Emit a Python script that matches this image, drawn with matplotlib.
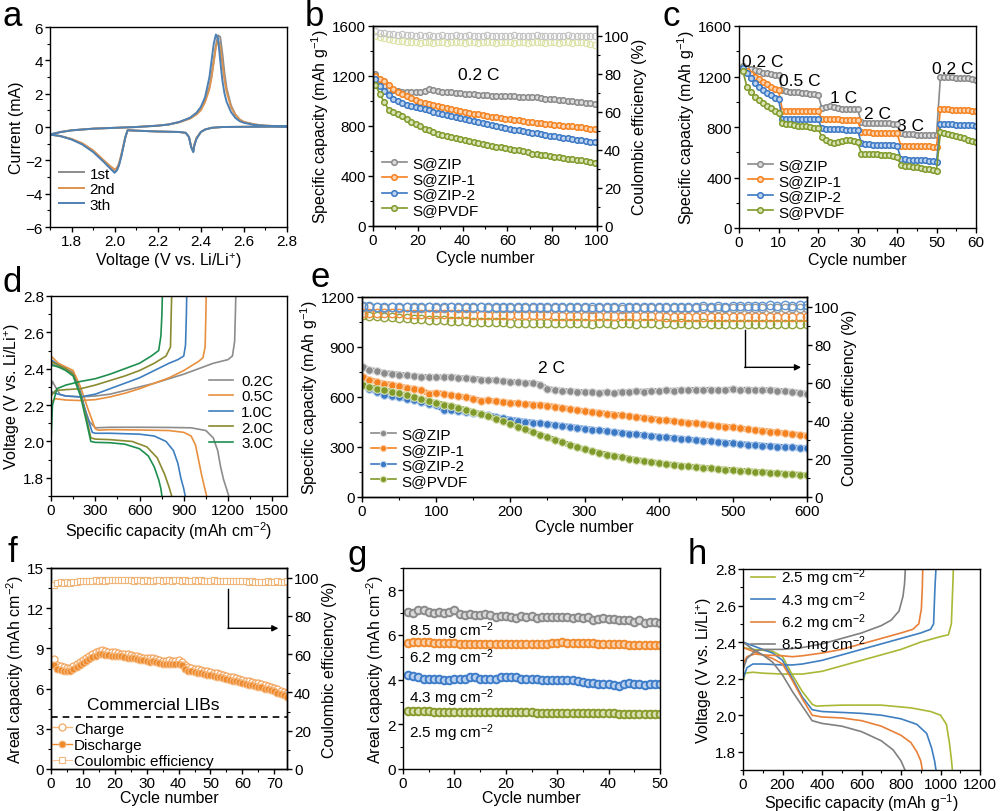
import numpy as np
import matplotlib
matplotlib.use("Agg")
import matplotlib.pyplot as plt
from matplotlib.ticker import MultipleLocator

plt.rcParams['font.family'] = ['Liberation Sans', 'DejaVu Sans']
plt.rcParams['mathtext.fontset'] = 'custom'
plt.rcParams['mathtext.rm'] = 'Liberation Sans'
plt.rcParams['mathtext.default'] = 'regular'
plt.rcParams['font.size'] = 11
plt.rcParams['axes.linewidth'] = 1.0

TICK = 11
LAB = 11.5

# ---------------- data ----------------
# a: CV loop (anodic sweep 1.7 -> 2.8, then cathodic 2.8 -> 1.7)
cv_v = [1.70, 1.75, 1.80, 1.90, 2.00, 2.10, 2.20, 2.25, 2.30, 2.35, 2.38, 2.40, 2.42, 2.44,
        2.45, 2.46, 2.47, 2.48, 2.49, 2.50, 2.51, 2.52, 2.54, 2.56, 2.58, 2.60, 2.65, 2.70, 2.80,
        2.70, 2.60, 2.50, 2.45, 2.42, 2.40, 2.38, 2.37, 2.365, 2.355, 2.345, 2.33, 2.30, 2.20,
        2.10, 2.07, 2.06, 2.05, 2.04, 2.03, 2.02, 2.01, 2.00, 1.98, 1.95, 1.90, 1.85, 1.80, 1.75, 1.70]
cv_1st = [-0.45, -0.3, -0.2, -0.1, -0.05, 0.0, 0.08, 0.15, 0.3, 0.55, 0.85, 1.15, 1.6, 2.4,
          3.1, 4.0, 4.9, 5.5, 5.4, 4.4, 3.2, 2.3, 1.3, 0.75, 0.45, 0.3, 0.15, 0.08, 0.03,
          0.02, 0.01, 0.0, -0.05, -0.15, -0.3, -0.7, -1.1, -1.5, -1.2, -0.6, -0.35, -0.3, -0.27,
          -0.22, -0.2, -0.2, -0.6, -1.2, -1.8, -2.3, -2.6, -2.7, -2.45, -2.05, -1.45, -1.0, -0.72, -0.55, -0.45]
cv_2nd = [-0.45, -0.3, -0.2, -0.1, -0.05, 0.0, 0.08, 0.15, 0.28, 0.5, 0.75, 1.0, 1.5, 2.3,
          3.0, 3.9, 4.8, 5.2, 4.8, 3.8, 2.8, 2.1, 1.2, 0.75, 0.45, 0.3, 0.15, 0.08, 0.03,
          0.02, 0.01, 0.0, -0.05, -0.15, -0.3, -0.65, -1.05, -1.45, -1.15, -0.6, -0.35, -0.3, -0.27,
          -0.22, -0.2, -0.2, -0.6, -1.15, -1.7, -2.2, -2.45, -2.55, -2.35, -2.0, -1.4, -0.98, -0.72, -0.55, -0.45]
cv_3th = [-0.45, -0.3, -0.2, -0.1, -0.05, 0.0, 0.08, 0.15, 0.3, 0.55, 0.85, 1.2, 1.8, 3.0,
          4.0, 5.0, 5.55, 5.3, 4.0, 2.8, 2.0, 1.5, 0.9, 0.55, 0.35, 0.25, 0.12, 0.07, 0.03,
          0.02, 0.01, 0.0, -0.05, -0.15, -0.3, -0.7, -1.1, -1.5, -1.2, -0.6, -0.35, -0.3, -0.27,
          -0.22, -0.2, -0.2, -0.6, -1.2, -1.8, -2.3, -2.6, -2.75, -2.5, -2.1, -1.5, -1.05, -0.75, -0.55, -0.45]

# b: cycling at 0.2 C (every second cycle)
b_cycles = list(range(1, 101, 2))
b_zip = [1220, 1160, 1120, 1100, 1085, 1080, 1075, 1075, 1070, 1070, 1075, 1080, 1095, 1085, 1080,
         1075, 1075, 1070, 1065, 1065, 1060, 1055, 1055, 1050, 1045, 1045, 1040, 1040, 1040, 1040,
         1040, 1040, 1035, 1035, 1035, 1035, 1030, 1025, 1020, 1015, 1015, 1010, 1005, 1000, 1000,
         995, 990, 985, 985, 980]
b_zip1 = [1200, 1180, 1160, 1130, 1100, 1075, 1055, 1040, 1025, 1005, 995, 985, 975, 965, 958,
          950, 942, 935, 928, 920, 915, 908, 900, 895, 888, 882, 876, 870, 865, 860,
          855, 850, 845, 840, 836, 832, 828, 824, 820, 816, 812, 808, 804, 800, 797,
          793, 789, 785, 780, 775]
b_zip2 = [1180, 1120, 1080, 1050, 1020, 1000, 985, 970, 960, 950, 942, 935, 925, 915, 905,
          898, 890, 882, 875, 866, 858, 850, 840, 832, 823, 815, 808, 800, 793, 786,
          778, 772, 766, 760, 754, 748, 742, 736, 730, 724, 718, 713, 708, 703, 698,
          692, 687, 682, 676, 670]
b_pvdf = [1130, 1060, 990, 930, 910, 900, 880, 860, 835, 815, 800, 780, 765, 752, 740,
          730, 722, 714, 706, 698, 690, 682, 674, 666, 658, 650, 642, 636, 630, 624,
          618, 612, 606, 598, 590, 580, 575, 570, 565, 560, 555, 550, 545, 540, 535,
          530, 525, 518, 512, 505]
b_ce_zip = [102.5, 101.5, 101.5, 101, 101, 100.5, 101, 100.5, 100.5, 100, 100.5, 100, 100.5, 100, 100,
            100.5, 100, 100, 100.5, 100, 100, 100.5, 100, 100, 100, 100.5, 100, 100, 100, 100,
            100, 100.5, 100, 100, 100, 100, 100.5, 100, 100, 100, 100, 100, 100, 100.5, 100,
            100, 100, 100, 100, 100]
b_ce_pvdf = [99.5, 99, 98.5, 98, 97.5, 97, 97, 96.5, 96.5, 96.5, 96, 96.5, 96.5, 96, 96.5,
             96.5, 96, 96.5, 96.5, 96.5, 96, 96.5, 96.5, 96, 96.5, 96.5, 96.5, 96, 96.5, 96.5,
             96.5, 96, 96.5, 96.5, 96, 96.5, 96.5, 96.5, 96, 96.5, 96.5, 96, 96.5, 96.5, 96,
             96.5, 96.5, 96, 95.5, 95]

# c: rate performance
c_cycles = list(range(1, 61))
c_zip = [1280, 1270, 1260, 1250, 1240, 1230, 1225, 1220, 1215, 1210,
         1090, 1085, 1080, 1080, 1075, 1070, 1070, 1065, 1060, 1055,
         950, 960, 965, 955, 950, 945, 945, 940, 945, 940,
         840, 835, 835, 835, 830, 830, 835, 830, 825, 820,
         750, 745, 745, 745, 740, 740, 740, 740, 735, 735,
         1200, 1200, 1195, 1195, 1190, 1190, 1185, 1185, 1180, 1175]
c_zip1 = [1260, 1240, 1220, 1200, 1180, 1160, 1140, 1120, 1100, 1090,
          930, 930, 930, 930, 930, 930, 930, 930, 930, 930,
          860, 860, 860, 860, 860, 855, 855, 855, 855, 855,
          760, 760, 760, 755, 755, 755, 755, 755, 750, 750,
          650, 650, 650, 650, 650, 650, 650, 650, 645, 645,
          940, 940, 940, 935, 935, 935, 935, 935, 930, 930]
c_zip2 = [1270, 1230, 1190, 1150, 1120, 1090, 1070, 1050, 1030, 1020,
          860, 860, 860, 860, 860, 860, 860, 860, 860, 860,
          790, 785, 785, 785, 785, 785, 780, 780, 780, 780,
          670, 665, 665, 660, 660, 660, 655, 655, 655, 650,
          550, 545, 540, 540, 535, 535, 535, 530, 530, 525,
          820, 820, 820, 820, 815, 815, 815, 815, 815, 810]
c_pvdf = [1240, 1120, 1080, 1040, 1010, 990, 970, 950, 930, 910,
          830, 825, 820, 815, 810, 810, 805, 800, 795, 790,
          720, 700, 680, 670, 680, 690, 700, 700, 690, 680,
          590, 590, 590, 585, 585, 580, 580, 575, 570, 565,
          500, 495, 490, 485, 480, 475, 470, 465, 460, 455,
          760, 750, 745, 740, 730, 720, 710, 700, 690, 680]
c_rates = ["0.2 C", "0.5 C", "1 C", "2 C", "3 C", "0.2 C"]
c_rate_x = [6, 15.5, 26.5, 35, 43.5, 54]
c_rate_y = [1320, 1165, 1035, 905, 810, 1260]

# d: charge/discharge profiles at different rates
d_rates = ["0.2C", "0.5C", "1.0C", "2.0C", "3.0C"]
d_02_dis_x = [0, 50, 100, 150, 180, 220, 260, 300, 400, 600, 800, 950, 1050, 1100, 1130, 1150, 1170, 1190, 1205]
d_02_dis_v = [2.43, 2.41, 2.40, 2.38, 2.32, 2.20, 2.11, 2.075, 2.078, 2.078, 2.077, 2.075, 2.06, 2.02, 1.95, 1.86, 1.79, 1.74, 1.70]
d_02_ch_x = [0, 10, 30, 60, 100, 200, 300, 400, 500, 600, 700, 800, 900, 1000, 1100, 1150, 1200, 1230, 1245, 1250, 1253]
d_02_ch_v = [2.30, 2.33, 2.30, 2.26, 2.25, 2.245, 2.25, 2.26, 2.28, 2.30, 2.32, 2.345, 2.37, 2.40, 2.43, 2.44, 2.45, 2.47, 2.55, 2.70, 2.80]
d_05_dis_x = [0, 50, 100, 150, 200, 250, 300, 320, 400, 600, 800, 900, 950, 980, 1000, 1020, 1040, 1055]
d_05_dis_v = [2.47, 2.43, 2.41, 2.39, 2.30, 2.18, 2.07, 2.062, 2.065, 2.063, 2.06, 2.05, 2.03, 1.98, 1.90, 1.82, 1.75, 1.70]
d_05_ch_x = [0, 5, 30, 100, 200, 300, 400, 500, 600, 700, 800, 900, 960, 1000, 1030, 1045, 1050, 1052]
d_05_ch_v = [2.15, 2.22, 2.235, 2.228, 2.225, 2.23, 2.245, 2.265, 2.29, 2.32, 2.35, 2.39, 2.42, 2.44, 2.46, 2.52, 2.70, 2.80]
d_10_dis_x = [0, 50, 100, 150, 200, 240, 280, 300, 400, 600, 700, 780, 830, 860, 880, 900, 910]
d_10_dis_v = [2.45, 2.42, 2.40, 2.37, 2.27, 2.15, 2.05, 2.045, 2.045, 2.04, 2.03, 2.00, 1.95, 1.88, 1.80, 1.74, 1.70]
d_10_ch_x = [0, 10, 50, 100, 200, 300, 400, 500, 600, 700, 800, 860, 900, 912, 918, 920]
d_10_ch_v = [2.28, 2.27, 2.26, 2.25, 2.245, 2.26, 2.29, 2.32, 2.35, 2.39, 2.43, 2.45, 2.47, 2.53, 2.70, 2.80]
d_20_dis_x = [0, 50, 100, 150, 200, 240, 270, 300, 400, 550, 650, 720, 770, 800, 818]
d_20_dis_v = [2.44, 2.42, 2.40, 2.37, 2.26, 2.13, 2.02, 2.013, 2.01, 2.00, 1.97, 1.91, 1.82, 1.75, 1.70]
d_20_ch_x = [0, 30, 100, 200, 300, 400, 500, 600, 700, 780, 810, 815, 818]
d_20_ch_v = [2.25, 2.28, 2.285, 2.29, 2.31, 2.335, 2.36, 2.39, 2.43, 2.47, 2.52, 2.70, 2.80]
d_30_dis_x = [0, 50, 100, 150, 200, 240, 270, 300, 400, 500, 600, 660, 700, 730, 745, 752]
d_30_dis_v = [2.42, 2.41, 2.39, 2.36, 2.25, 2.11, 2.00, 1.995, 1.993, 1.985, 1.96, 1.92, 1.86, 1.79, 1.74, 1.70]
d_30_ch_x = [0, 10, 40, 100, 200, 300, 400, 500, 600, 680, 730, 745, 752, 755]
d_30_ch_v = [2.00, 2.20, 2.29, 2.31, 2.33, 2.345, 2.37, 2.40, 2.43, 2.47, 2.50, 2.58, 2.70, 2.80]

# e: long cycling at 2 C (every tenth cycle)
e_cycles = [1] + list(range(10, 601, 10))
e_zip = [780, 765, 755, 745, 740, 735, 730, 725, 722, 720, 720, 718, 722, 715, 712, 710, 705, 702, 700, 695,
         692, 688, 685, 682, 675, 650, 642, 638, 635, 632, 630, 628, 625, 628, 622, 632, 630, 635, 632, 638,
         636, 640, 638, 642, 640, 645, 642, 645, 640, 643, 646, 642, 645, 642, 640, 643, 638, 635, 632, 625, 620]
e_zip1 = [720, 705, 690, 680, 675, 665, 655, 650, 640, 620, 625, 620, 610, 605, 598, 590, 578, 580, 575, 570,
          565, 562, 558, 555, 552, 548, 542, 535, 528, 522, 515, 510, 505, 500, 495, 490, 485, 480, 475, 470,
          465, 460, 455, 450, 446, 442, 438, 432, 427, 422, 418, 412, 407, 402, 398, 393, 388, 383, 378, 373, 368]
e_zip2 = [670, 650, 630, 615, 605, 598, 590, 580, 570, 560, 550, 525, 520, 515, 510, 505, 498, 490, 482, 472,
          465, 458, 452, 447, 442, 437, 432, 427, 422, 416, 410, 405, 400, 395, 390, 385, 380, 376, 371, 366,
          362, 358, 354, 350, 346, 342, 338, 334, 330, 326, 322, 318, 315, 312, 309, 306, 303, 300, 298, 295, 292]
e_pvdf = [670, 660, 650, 640, 632, 622, 610, 598, 586, 574, 565, 555, 545, 535, 522, 510, 497, 484, 470, 455,
          440, 423, 406, 389, 373, 358, 343, 328, 313, 299, 286, 275, 265, 255, 246, 238, 230, 223, 216, 210,
          204, 198, 193, 188, 184, 180, 176, 172, 168, 165, 162, 158, 155, 152, 149, 146, 143, 140, 137, 134, 131]
e_ce_zip = [99.5, 99.5, 99.5, 99, 99.5, 99, 99.5, 99, 99, 99.5, 99, 99, 99.5, 99, 99, 99, 99.5, 99, 99, 99,
            99, 99, 99, 99, 99, 99, 99, 99, 99, 99, 99, 98.5, 99, 99, 99, 98.5, 99, 99, 99, 99,
            99, 99, 99, 99, 99, 99, 99, 99, 99, 99, 99, 99, 99, 99, 99, 99, 99, 99, 99, 99, 99]
e_ce_zip1 = [96.5, 96.5, 96.5, 96.5, 96.5, 96.5, 96, 96, 96, 96, 96, 96, 96, 96, 96, 95.5, 95.5, 95.5, 95.5, 95.5,
             95.5, 95.5, 95.5, 95.5, 95.5, 95.5, 95, 95, 95, 95, 95, 95, 95, 95, 95, 95, 95, 95, 95, 95,
             95, 94.5, 94.5, 94.5, 94.5, 94.5, 94.5, 94.5, 94.5, 94.5, 94.5, 94.5, 94.5, 94.5, 94.5, 94.5, 94.5, 94.5, 94.5, 94.5, 94.5]
e_ce_zip2 = [100.5, 100.5, 100, 100, 100, 100, 100, 99.5, 99.5, 99.5, 99.5, 99.5, 99.5, 99.5, 99.5, 99.5, 99.5, 99.5, 99.5, 99.5,
             99.5, 99.5, 99.5, 99.5, 99.5, 99.5, 99.5, 99.5, 99.5, 99.5, 99.5, 99.5, 99.5, 99.5, 99.5, 100, 99.5, 100, 99.5, 100,
             100, 100, 100, 100, 100, 100, 100.5, 100, 100.5, 100, 100.5, 100.5, 100.5, 100.5, 100.5, 101, 100.5, 101, 100.5, 101, 101]
e_ce_pvdf = [95.5, 95, 95, 94.5, 94.5, 94, 94, 93.5, 93.5, 93, 93, 93, 92.5, 92.5, 92.5, 92, 92, 92, 92, 92,
             91.5, 91.5, 91.5, 91.5, 91.5, 91.5, 91.5, 91.5, 91.5, 91.5, 91.5, 91, 91.5, 91.5, 91, 91.5, 91.5, 91, 91.5, 91.5,
             91, 91.5, 91, 91.5, 91, 91, 91.5, 91, 91, 91, 91, 91, 91, 91, 91, 91, 91, 91, 91, 91, 91]

# f: high-loading cell vs commercial LIBs
f_cycles = list(range(1, 75))
f_discharge = [7.75, 7.5, 7.4, 7.35, 7.3, 7.3, 7.45, 7.6, 7.75, 7.9, 8.05, 8.2, 8.35, 8.45, 8.55, 8.55, 8.5, 8.5, 8.45, 8.45,
               8.4, 8.4, 8.35, 8.3, 8.3, 8.25, 8.2, 8.15, 8.1, 8.05, 8.0, 8.05, 7.95, 7.9, 7.8, 7.8, 7.85, 7.8, 7.8, 7.85,
               7.75, 7.5, 7.35, 7.3, 7.25, 7.2, 7.15, 7.1, 7.05, 7.0, 6.95, 6.9, 6.85, 6.8, 6.7, 6.65, 6.6, 6.55, 6.5, 6.4,
               6.35, 6.3, 6.25, 6.2, 6.15, 6.1, 6.0, 5.95, 5.9, 5.8, 5.7, 5.6, 5.5, 5.4]
f_charge = [8.2, 7.75, 7.65, 7.6, 7.55, 7.55, 7.7, 7.85, 8.0, 8.15, 8.3, 8.45, 8.6, 8.7, 8.8, 8.85, 8.8, 8.75, 8.7, 8.7,
            8.65, 8.6, 8.6, 8.55, 8.5, 8.45, 8.4, 8.35, 8.3, 8.3, 8.25, 8.3, 8.2, 8.15, 8.05, 8.05, 8.1, 8.05, 8.05, 8.1,
            8.0, 7.75, 7.6, 7.55, 7.5, 7.45, 7.4, 7.35, 7.3, 7.25, 7.2, 7.15, 7.1, 7.05, 6.95, 6.9, 6.85, 6.8, 6.75, 6.65,
            6.6, 6.55, 6.5, 6.45, 6.4, 6.35, 6.25, 6.2, 6.15, 6.05, 5.95, 5.85, 5.75, 5.65]
f_ce = [96, 97, 97.5, 97, 97.5, 97, 97.5, 97.5, 98, 98, 98, 98, 98, 98.5, 98, 98.5, 98, 98.5, 98.5, 98.5,
        98.5, 98.5, 98.5, 98.5, 98.5, 98, 98.5, 98.5, 98, 98.5, 98, 98, 98.5, 98.5, 98, 98.5, 98.5, 98, 98.5, 98.5,
        98, 98.5, 98, 98, 98.5, 98, 98.5, 98, 98, 98, 98.5, 98, 98, 98, 98, 98, 98, 98, 98, 98,
        98, 97.5, 98, 97.5, 97.5, 97.5, 97.5, 98, 97.5, 97.5, 98, 97.5, 97.5, 98]
f_lib = 3.9

# g: areal capacity at different sulfur loadings
g_cycles = list(range(1, 51))
g_loads = ["8.5 mg cm$^{-2}$", "6.2 mg cm$^{-2}$", "4.3 mg cm$^{-2}$", "2.5 mg cm$^{-2}$"]
g_85 = [7.05, 7.0, 7.1, 7.1, 7.05, 7.0, 7.05, 7.0, 7.05, 7.1, 6.95, 6.9, 6.95, 6.9, 6.9, 6.95, 6.9, 6.8, 6.85, 6.85,
        6.8, 6.75, 6.85, 6.8, 6.85, 6.75, 6.8, 6.8, 6.8, 6.8, 6.8, 6.8, 6.75, 6.8, 6.75, 6.8, 6.65, 6.7, 6.75, 6.7,
        6.7, 6.65, 6.65, 6.65, 6.6, 6.65, 6.55, 6.6, 6.6, 6.55]
g_62 = [5.65, 5.7, 5.7, 5.7, 5.7, 5.65, 5.65, 5.65, 5.65, 5.65, 5.6, 5.6, 5.6, 5.6, 5.6, 5.6, 5.6, 5.6, 5.6, 5.6,
        5.6, 5.6, 5.6, 5.6, 5.6, 5.6, 5.6, 5.6, 5.65, 5.65, 5.7, 5.65, 5.65, 5.65, 5.65, 5.65, 5.65, 5.6, 5.6, 5.6,
        5.6, 5.6, 5.6, 5.55, 5.55, 5.55, 5.55, 5.55, 5.55, 5.55]
g_43 = [4.2, 4.15, 4.1, 4.05, 4.05, 4.05, 4.05, 4.0, 4.0, 4.05, 4.05, 4.05, 4.1, 4.1, 4.05, 4.05, 4.05, 4.05, 4.1, 4.1,
        4.1, 4.1, 4.05, 4.05, 4.05, 4.05, 4.0, 4.0, 4.0, 4.0, 4.0, 4.0, 4.0, 3.95, 3.9, 3.85, 3.85, 3.8, 3.8, 3.8,
        3.75, 3.7, 3.8, 3.85, 3.8, 3.8, 3.75, 3.8, 3.8, 3.8]
g_25 = [2.6, 2.6, 2.6, 2.6, 2.6, 2.55, 2.55, 2.55, 2.55, 2.55, 2.55, 2.55, 2.55, 2.55, 2.55, 2.55, 2.55, 2.55, 2.55, 2.55,
        2.55, 2.55, 2.55, 2.55, 2.55, 2.5, 2.5, 2.5, 2.5, 2.5, 2.5, 2.5, 2.5, 2.5, 2.5, 2.5, 2.5, 2.5, 2.5, 2.5,
        2.5, 2.45, 2.45, 2.45, 2.45, 2.45, 2.45, 2.45, 2.45, 2.45]
g_label_y = [6.2, 5.0, 3.2, 1.65]

# h: voltage profiles at different loadings
h_25_dis_x = [0, 50, 100, 150, 200, 250, 300, 350, 370, 500, 700, 850, 950, 1000, 1030, 1045, 1055, 1060]
h_25_dis_v = [2.37, 2.36, 2.355, 2.35, 2.32, 2.22, 2.13, 2.06, 2.05, 2.055, 2.055, 2.04, 2.02, 2.00, 1.95, 1.85, 1.76, 1.70]
h_25_ch_x = [0, 10, 50, 100, 200, 300, 400, 500, 600, 700, 800, 900, 1000, 1040, 1055, 1062, 1065]
h_25_ch_v = [2.18, 2.23, 2.235, 2.23, 2.225, 2.225, 2.24, 2.27, 2.30, 2.33, 2.36, 2.40, 2.43, 2.44, 2.50, 2.70, 2.80]
h_43_dis_x = [0, 50, 100, 150, 200, 250, 300, 350, 400, 500, 600, 700, 800, 880, 930, 955, 970, 977]
h_43_dis_v = [2.40, 2.38, 2.36, 2.34, 2.30, 2.20, 2.10, 2.03, 2.02, 2.015, 2.01, 2.00, 1.98, 1.95, 1.90, 1.82, 1.75, 1.70]
h_43_ch_x = [0, 20, 50, 100, 200, 250, 300, 400, 500, 600, 700, 800, 900, 950, 965, 972, 977]
h_43_ch_v = [2.20, 2.26, 2.28, 2.28, 2.275, 2.275, 2.28, 2.30, 2.33, 2.36, 2.39, 2.42, 2.45, 2.47, 2.50, 2.70, 2.80]
h_62_dis_x = [0, 50, 100, 150, 200, 250, 300, 350, 400, 500, 600, 700, 800, 850, 880, 900, 908]
h_62_dis_v = [2.37, 2.35, 2.33, 2.31, 2.28, 2.19, 2.09, 2.00, 1.99, 1.985, 1.97, 1.94, 1.89, 1.85, 1.80, 1.75, 1.70]
h_62_ch_x = [0, 20, 60, 100, 200, 250, 300, 400, 500, 600, 700, 800, 860, 890, 903, 908, 910]
h_62_ch_v = [2.28, 2.32, 2.335, 2.33, 2.325, 2.32, 2.325, 2.34, 2.36, 2.39, 2.42, 2.45, 2.47, 2.50, 2.58, 2.70, 2.80]
h_85_dis_x = [0, 50, 100, 150, 200, 250, 300, 350, 400, 500, 600, 700, 760, 800, 820]
h_85_dis_v = [2.40, 2.36, 2.33, 2.29, 2.22, 2.13, 2.05, 1.97, 1.955, 1.94, 1.91, 1.86, 1.81, 1.75, 1.70]
h_85_ch_x = [0, 20, 60, 100, 150, 200, 300, 400, 500, 600, 700, 750, 790, 810, 818, 822]
h_85_ch_v = [2.25, 2.31, 2.35, 2.36, 2.36, 2.36, 2.37, 2.39, 2.42, 2.45, 2.49, 2.52, 2.57, 2.65, 2.72, 2.80]

names = ["S@ZIP", "S@ZIP-1", "S@ZIP-2", "S@PVDF"]
GRAY, ORANGE, BLUE, OLIVE = "#8a8a8a", "#f5821f", "#3b78c4", "#7f9a2a"
cols = [GRAY, ORANGE, BLUE, OLIVE]
light = ["#dcdcdc", "#fbd3b0", "#bcd3ef", "#d8e2b4"]

# ---------------- figure ----------------
fig = plt.figure(figsize=(10, 8.12), dpi=100)


def box(l, t, r, b):
    return fig.add_axes([l / 1000, 1 - b / 812, (r - l) / 1000, (b - t) / 812])


def style(ax):
    ax.tick_params(which='major', direction='out', length=3.5, width=1, labelsize=TICK, pad=1.5)
    ax.tick_params(which='minor', direction='out', length=2.2, width=0.8)


def right_axis(ax):
    ax2 = ax.twinx()
    ax2.set_ylim(0, 105)
    ax2.yaxis.set_major_locator(MultipleLocator(20))
    ax2.yaxis.set_minor_locator(MultipleLocator(10))
    style(ax2)
    ax2.set_ylabel("Coulombic efficiency (%)", fontsize=LAB, labelpad=2)
    return ax2


def mark_line(ax, x, y, c, lc, label=None, ms=4.5):
    ax.plot(x, y, '-o', color=c, lw=1.2, ms=ms, mfc=lc, mec=c, mew=1.1, label=label)


leg_kw = dict(frameon=False, fontsize=TICK, handlelength=1.6, labelspacing=0.1,
              borderaxespad=0.2, handletextpad=0.4)

# a
ax = box(50, 28, 287, 228)
for y, c, lab in zip([cv_1st, cv_2nd, cv_3th], ["#8c8c8c", "#dc9350", "#4d80b3"], ["1st", "2nd", "3th"]):
    ax.plot(cv_v, y, color=c, lw=1.4, label=lab)
ax.set_xlim(1.7, 2.8)
ax.set_ylim(-6, 6)
ax.xaxis.set_major_locator(MultipleLocator(0.2))
ax.xaxis.set_minor_locator(MultipleLocator(0.1))
ax.yaxis.set_major_locator(MultipleLocator(2))
ax.yaxis.set_minor_locator(MultipleLocator(1))
style(ax)
ax.set_xlabel("Voltage (V vs. Li/Li$^{+}$)", fontsize=LAB, labelpad=2)
ax.set_ylabel("Current (mA)", fontsize=LAB, labelpad=1)
ax.legend(loc='lower left', bbox_to_anchor=(0.0, 0.03), **leg_kw)

# b
ax = box(373, 27, 597, 227)
ax2 = right_axis(ax)
ax2.plot(b_cycles, b_ce_pvdf, 'o', ms=4.5, mfc='none', mec="#dde3a8", mew=0.9)
ax2.plot(b_cycles, b_ce_zip, 'o', ms=4.5, mfc='none', mec="#c4c4c4", mew=0.9)
for y, c, lc, n in zip([b_zip, b_zip1, b_zip2, b_pvdf], cols, light, names):
    mark_line(ax, b_cycles, y, c, lc, n, ms=4)
ax.set_xlim(0, 100)
ax.set_ylim(0, 1600)
ax.xaxis.set_major_locator(MultipleLocator(20))
ax.xaxis.set_minor_locator(MultipleLocator(10))
ax.yaxis.set_major_locator(MultipleLocator(400))
ax.yaxis.set_minor_locator(MultipleLocator(200))
style(ax)
ax.text(47, 1215, "0.2 C", fontsize=12.5, ha='center', va='center')
ax.set_xlabel("Cycle number", fontsize=LAB, labelpad=2)
ax.set_ylabel("Specific capacity (mAh g$^{-1}$)", fontsize=LAB, labelpad=1)
ax.legend(loc='lower left', **leg_kw)

# c
ax = box(739, 27, 976, 229)
for y, c, lc, n in zip([c_zip, c_zip1, c_zip2, c_pvdf], cols, light, names):
    mark_line(ax, c_cycles, y, c, lc, n, ms=4)
for t, x, y in zip(c_rates, c_rate_x, c_rate_y):
    ax.text(x, y, t, fontsize=12.5, ha='center', va='center')
ax.set_xlim(0, 60)
ax.set_ylim(0, 1600)
ax.xaxis.set_major_locator(MultipleLocator(10))
ax.xaxis.set_minor_locator(MultipleLocator(5))
ax.yaxis.set_major_locator(MultipleLocator(400))
ax.yaxis.set_minor_locator(MultipleLocator(200))
style(ax)
ax.set_xlabel("Cycle number", fontsize=LAB, labelpad=2)
ax.set_ylabel("Specific capacity (mAh g$^{-1}$)", fontsize=LAB, labelpad=1)
ax.legend(loc='lower left', **leg_kw)

# d
ax = box(51, 297, 287, 497)
d_cols = ["#8c8c8c", "#e8903e", "#3f7fc0", "#8a8a30", "#1f8f50"]
d_dis = [(d_02_dis_x, d_02_dis_v), (d_05_dis_x, d_05_dis_v), (d_10_dis_x, d_10_dis_v),
         (d_20_dis_x, d_20_dis_v), (d_30_dis_x, d_30_dis_v)]
d_ch = [(d_02_ch_x, d_02_ch_v), (d_05_ch_x, d_05_ch_v), (d_10_ch_x, d_10_ch_v),
        (d_20_ch_x, d_20_ch_v), (d_30_ch_x, d_30_ch_v)]
for (dx, dv), (cx, cv), c, lab in zip(d_dis, d_ch, d_cols, d_rates):
    ax.plot(dx, dv, color=c, lw=1.2, label=lab)
    ax.plot(cx, cv, color=c, lw=1.2)
ax.set_xlim(0, 1600)
ax.set_ylim(1.7, 2.8)
ax.set_xticks([0, 300, 600, 900, 1200, 1500])
ax.xaxis.set_minor_locator(MultipleLocator(150))
ax.yaxis.set_major_locator(MultipleLocator(0.2))
ax.yaxis.set_minor_locator(MultipleLocator(0.1))
style(ax)
ax.set_xlabel("Specific capacity (mAh cm$^{-2}$)", fontsize=LAB, labelpad=2)
ax.set_ylabel("Voltage (V vs. Li/Li$^{+}$)", fontsize=LAB, labelpad=1)
ax.legend(loc='center right', bbox_to_anchor=(1.0, 0.42), frameon=False, fontsize=TICK,
          handlelength=1.6, labelspacing=0.1, handletextpad=0.5)

# e
ax = box(362, 298, 807, 498)
ax2 = right_axis(ax)
for y, c in zip([e_ce_pvdf, e_ce_zip1, e_ce_zip, e_ce_zip2], ["#8fa23a", "#f28d3a", "#9a9a9a", "#5b93d3"]):
    ax2.plot(e_cycles, y, 'o', ms=6, mfc='none', mec=c, mew=1.0)
for y, c, lc, n in zip([e_zip, e_zip1, e_zip2, e_pvdf], cols, light, names):
    ax.plot(e_cycles, y, '-o', color=c, lw=4, ms=5.5, mfc=c, mec=lc, mew=0.8, label=n)
ax.plot([516, 516], [1004, 778], color='k', lw=1)
ax.annotate('', xy=(592, 778), xytext=(516, 778),
            arrowprops=dict(arrowstyle='-|>', color='k', lw=1, mutation_scale=9, shrinkA=0, shrinkB=0))
ax.text(255, 778, "2 C", fontsize=12.5, ha='center', va='center')
ax.set_xlim(0, 600)
ax.set_ylim(0, 1200)
ax.xaxis.set_major_locator(MultipleLocator(100))
ax.xaxis.set_minor_locator(MultipleLocator(50))
ax.yaxis.set_major_locator(MultipleLocator(300))
ax.yaxis.set_minor_locator(MultipleLocator(150))
style(ax)
ax.set_xlabel("Cycle number", fontsize=LAB, labelpad=1)
ax.set_ylabel("Specific capacity (mAh g$^{-1}$)", fontsize=LAB, labelpad=1)
leg = ax.legend(loc='lower left', **leg_kw)
for h in leg.legend_handles:
    h.set_linewidth(1.2)
    h.set_markersize(4.5)

# f
ax = box(51, 569, 287, 770)
ax2 = right_axis(ax)
ax2.plot(f_cycles, f_ce, '-s', color="#f3c79a", lw=0.8, ms=5, mfc='white', mec="#f0b77d", mew=0.8,
         label="Coulombic efficiency")
ax.plot(f_cycles, f_charge, '-o', color="#f6b77a", lw=1, ms=5, mfc='white', mec="#f3a660", mew=0.9, label="Charge")
ax.plot(f_cycles, f_discharge, '-o', color="#ee8a2e", lw=1, ms=5, mfc="#ee8a2e", mec="#f7c08c", mew=0.7,
        label="Discharge")
ax.axhline(f_lib, color='k', lw=1.2, ls=(0, (4, 3)))
ax.text(32, 4.85, "Commercial LIBs", fontsize=12.5, ha='center', va='center')
ax.plot([55.5, 55.5], [13.4, 10.5], color='k', lw=1)
ax.annotate('', xy=(71.3, 10.5), xytext=(55.5, 10.5),
            arrowprops=dict(arrowstyle='-|>', color='k', lw=1, mutation_scale=9, shrinkA=0, shrinkB=0))
ax.set_xlim(0, 74)
ax.set_ylim(0, 15)
ax.xaxis.set_major_locator(MultipleLocator(10))
ax.xaxis.set_minor_locator(MultipleLocator(5))
ax.yaxis.set_major_locator(MultipleLocator(3))
ax.yaxis.set_minor_locator(MultipleLocator(1.5))
style(ax)
ax.set_xlabel("Cycle number", fontsize=LAB, labelpad=0)
ax.set_ylabel("Areal capacity (mAh cm$^{-2}$)", fontsize=LAB, labelpad=1)
h1, l1 = ax.get_legend_handles_labels()
h2, l2 = ax2.get_legend_handles_labels()
ax.legend(h1 + h2, l1 + l2, loc='lower left', frameon=False, fontsize=TICK, handlelength=1.3,
          labelspacing=0.15, borderaxespad=0.0, borderpad=0.05, handletextpad=0.15)

# g
ax = box(403, 569, 660, 770)
g_cols = ["#8a8a8a", "#f08a2c", "#3d7cc9", "#889a2b"]
g_light = ["#d9d9d9", "#fbd1ad", "#b9d0ee", "#d6e0b0"]
for y, c, lc, t, ty in zip([g_85, g_62, g_43, g_25], g_cols, g_light, g_loads, g_label_y):
    ax.plot(g_cycles, y, '-o', color=c, lw=1.2, ms=5.5, mfc=lc, mec=c, mew=1.4)
    ax.text(1.2, ty, t, fontsize=TICK, ha='left', va='center')
ax.set_xlim(0, 50)
ax.set_ylim(0, 9)
ax.xaxis.set_major_locator(MultipleLocator(10))
ax.xaxis.set_minor_locator(MultipleLocator(5))
ax.yaxis.set_major_locator(MultipleLocator(2))
ax.yaxis.set_minor_locator(MultipleLocator(1))
style(ax)
ax.set_xlabel("Cycle number", fontsize=LAB, labelpad=0)
ax.set_ylabel("Areal capacity (mAh cm$^{-2}$)", fontsize=LAB, labelpad=1)

# h
ax = box(743, 570, 980, 771)
h_cols = ["#a9b835", "#3f7fc0", "#e8803a", "#808080"]
h_labels = ["2.5 mg cm$^{-2}$", "4.3 mg cm$^{-2}$", "6.2 mg cm$^{-2}$", "8.5 mg cm$^{-2}$"]
h_dis = [(h_25_dis_x, h_25_dis_v), (h_43_dis_x, h_43_dis_v), (h_62_dis_x, h_62_dis_v), (h_85_dis_x, h_85_dis_v)]
h_ch = [(h_25_ch_x, h_25_ch_v), (h_43_ch_x, h_43_ch_v), (h_62_ch_x, h_62_ch_v), (h_85_ch_x, h_85_ch_v)]
for (dx, dv), (cx, cv), c, lab in zip(h_dis, h_ch, h_cols, h_labels):
    ax.plot(dx, dv, color=c, lw=1.2, label=lab)
    ax.plot(cx, cv, color=c, lw=1.2)
ax.set_xlim(0, 1200)
ax.set_ylim(1.7, 2.8)
ax.xaxis.set_major_locator(MultipleLocator(200))
ax.xaxis.set_minor_locator(MultipleLocator(100))
ax.yaxis.set_major_locator(MultipleLocator(0.2))
ax.yaxis.set_minor_locator(MultipleLocator(0.1))
style(ax)
ax.set_xlabel("Specific capacity (mAh g$^{-1}$)", fontsize=LAB, labelpad=0)
ax.set_ylabel("Voltage (V vs. Li/Li$^{+}$)", fontsize=LAB, labelpad=1)
ax.legend(loc='upper left', bbox_to_anchor=(0.0, 1.05), frameon=False, fontsize=TICK, handlelength=1.6,
          labelspacing=0.05, borderaxespad=0.1, handletextpad=0.4)

# panel letters
for t, x, y in [("a", 12, 16), ("b", 314, 17), ("c", 671, 17), ("d", 12, 282),
                ("e", 320, 278), ("f", 12, 553), ("g", 357, 555), ("h", 697, 555)]:
    fig.text(x / 1000, 1 - y / 812, t, fontsize=25, ha='center', va='center')

fig.savefig("out.png", dpi=100)
